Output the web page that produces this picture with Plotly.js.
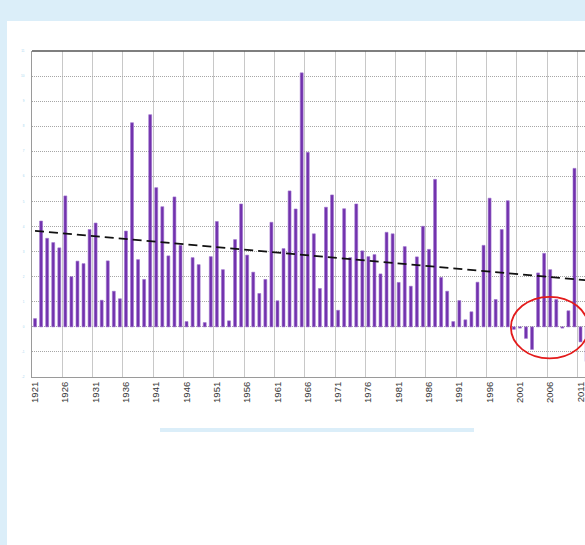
<!DOCTYPE html>
<html>
<head>
<meta charset="utf-8">
<script src="https://cdn.plot.ly/plotly-3.0.1.min.js"></script>
<style>
  html, body { margin: 0; padding: 0; width: 585px; height: 545px; overflow: hidden; background: #dbeef9; }
  #panel { position: absolute; left: 7px; top: 21px; width: 578px; height: 524px; background: #ffffff; }
  #chart { position: absolute; left: 0; top: 0; width: 578px; height: 524px; }
  #bar { position: absolute; left: 153px; top: 407px; width: 314px; height: 4px; background: #dbeef9; }
</style>
</head>
<body>
<div id="panel">
  <div id="chart"></div>
  <div id="bar"></div>
</div>
<script>
// Years (categories)
const years = [];
for (let y = 1921; y <= 2012; y++) years.push(String(y));

// Series values (one per year, 1921..2012)
const values = [
  0.33, 4.22, 3.53, 3.36, 3.15, 5.22, 2.00, 2.62, 2.52, 3.88,   // 1921-1930
  4.14, 1.06, 2.63, 1.42, 1.12, 3.82, 8.14, 2.68, 1.89, 8.46,   // 1931-1940
  5.55, 4.79, 2.83, 5.18, 3.25, 0.21, 2.76, 2.48, 0.17, 2.80,   // 1941-1950
  4.20, 2.28, 0.24, 3.48, 4.90, 2.86, 2.18, 1.33, 1.89, 4.17,   // 1951-1960
  1.04, 3.12, 5.42, 4.70, 10.13, 6.96, 3.71, 1.53, 4.77, 5.26,  // 1961-1970
  0.66, 4.71, 2.76, 4.90, 3.03, 2.80, 2.88, 2.11, 3.77, 3.71,   // 1971-1980
  1.77, 3.20, 1.62, 2.79, 4.01, 3.09, 5.88, 1.97, 1.42, 0.21,   // 1981-1990
  1.05, 0.28, 0.60, 1.78, 3.25, 5.13, 1.09, 3.88, 5.03, -0.10,  // 1991-2000
  -0.05, -0.46, -0.90, 2.15, 2.93, 2.28, 1.09, -0.05, 0.64, 6.32, // 2001-2010
  -0.60, -1.38                                                  // 2011-2012
];

// Y-axis tick labels (rendered tiny and faint as in the source)
const yTickVals = [-2, -1, 0, 1, 2, 3, 4, 5, 6, 7, 8, 9, 10, 11];
const yTickText = yTickVals.map(String);

// Linear trend (least squares) computed from the series
const n = values.length;
let sx = 0, sy = 0, sxx = 0, sxy = 0;
for (let i = 0; i < n; i++) { sx += i; sy += values[i]; sxx += i * i; sxy += i * values[i]; }
const slope = (n * sxy - sx * sy) / (n * sxx - sx * sx);
const intercept = (sy - slope * sx) / n;
const trendX = [years[0], years[n - 1]];
const trendY = [intercept, intercept + slope * (n - 1)];

const data = [
  {
    type: 'bar',
    x: years,
    y: values,
    marker: { color: '#7232ad', line: { color: '#9c70cc', width: 0.6 } },
    hoverinfo: 'x+y'
  },
  {
    type: 'scatter',
    mode: 'lines',
    x: trendX,
    y: trendY,
    line: { color: '#111111', width: 1.8, dash: '9px,5px' },
    hoverinfo: 'skip'
  }
];

const layout = {
  width: 578,
  height: 524,
  margin: { l: 25, r: 0, t: 30, b: 168, pad: 0 },
  paper_bgcolor: 'rgba(0,0,0,0)',
  plot_bgcolor: '#ffffff',
  showlegend: false,
  bargap: 0.52,
  xaxis: {
    type: 'category',
    range: [-0.5, 90.74],
    tickmode: 'linear',
    tick0: 0,
    dtick: 5,
    tickson: 'boundaries',
    ticks: '',
    tickangle: -90,
    tickfont: { family: 'Liberation Sans, Arial, sans-serif', size: 9.5, color: '#333333' },
    showgrid: true,
    gridcolor: '#c8c8c8',
    gridwidth: 1,
    showline: true,
    linecolor: '#9a9a9a',
    linewidth: 1,
    zeroline: false,
    fixedrange: true
  },
  yaxis: {
    range: [-2, 11],
    tickmode: 'array',
    tickvals: yTickVals,
    ticktext: yTickText,
    tickfont: { family: 'Liberation Sans, Arial, sans-serif', size: 3, color: '#9fd3ee' },
    ticklabelstandoff: 6,
    ticks: '',
    showgrid: true,
    gridcolor: '#a6a6a6',
    griddash: '1px,1px',
    gridwidth: 1,
    showline: true,
    linecolor: '#9a9a9a',
    linewidth: 1,
    zeroline: false,
    fixedrange: true
  },
  shapes: [
    { type: 'line', xref: 'paper', yref: 'paper', x0: 0, x1: 1, y0: 1, y1: 1,
      line: { color: '#555555', width: 1.5 } },
    { type: 'circle', xref: 'paper', yref: 'paper',
      x0: 0.866, x1: 1.006, y0: 0.057, y1: 0.246,
      line: { color: '#e31b1b', width: 1.8 } }
  ]
};

Plotly.newPlot('chart', data, layout, { displayModeBar: false, staticPlot: true });
</script>
</body>
</html>
